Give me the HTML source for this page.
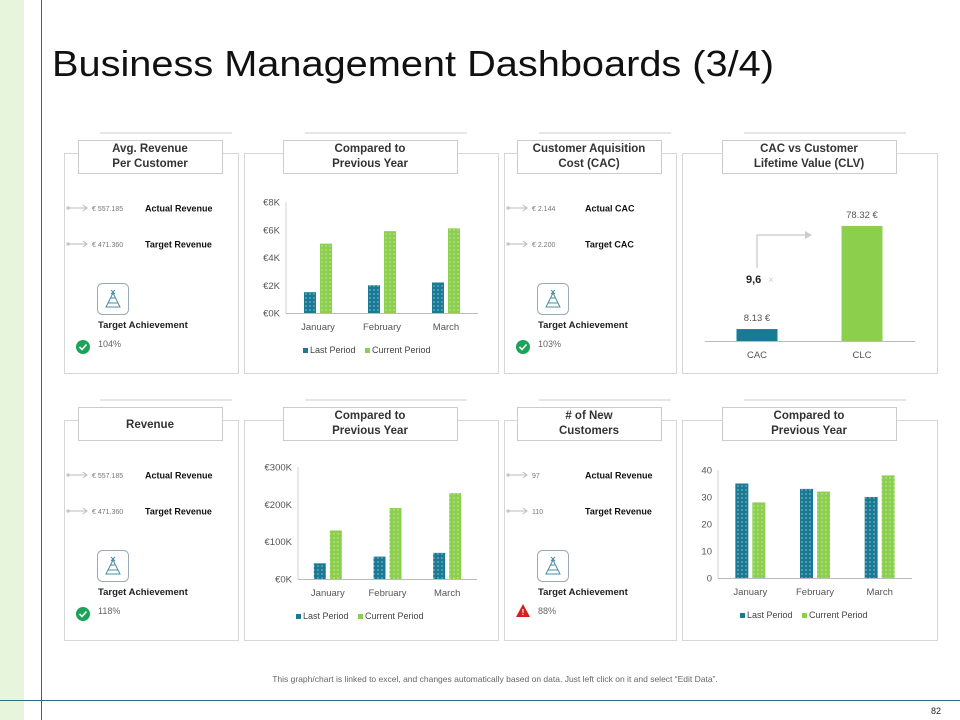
<!DOCTYPE html>
<html><head><meta charset="utf-8"><style>
body{margin:0;width:960px;height:720px;overflow:hidden;background:#fff;font-family:"Liberation Sans",sans-serif}
svg{display:block}
</style></head><body>
<svg id="s" width="960" height="720" xmlns="http://www.w3.org/2000/svg" font-family="Liberation Sans, sans-serif">
<defs>
<pattern id="dt" width="4" height="4" patternUnits="userSpaceOnUse"><rect width="4" height="4" fill="#1a7a94"/><circle cx="2" cy="2" r="0.6" fill="#cfe8ee"/></pattern>
<pattern id="dg" width="4" height="4" patternUnits="userSpaceOnUse"><rect width="4" height="4" fill="#8ccf4d"/><circle cx="2" cy="2" r="0.6" fill="#e4f4d4"/></pattern>
</defs>
<rect x="0" y="0" width="24" height="720" fill="#e6f5dc"/>
<line x1="41.5" y1="0" x2="41.5" y2="720" stroke="#2a6f7f" stroke-width="1"/>
<line x1="0" y1="700.5" x2="960" y2="700.5" stroke="#2a6f7f" stroke-width="1"/>
<text x="52" y="76" font-size="36" fill="#111" textLength="722" lengthAdjust="spacingAndGlyphs">Business Management Dashboards (3/4)</text>
<text x="495" y="682" font-size="8.5" fill="#666" text-anchor="middle">This graph/chart is linked to excel, and changes automatically based on data. Just left click on it and select “Edit Data”.</text>
<text x="941" y="714" font-size="9" fill="#222" text-anchor="end">82</text>
<g id="g"></g>
</svg>
<script>
// ---- data ----
const months = ["January","February","March"];
const avgLast = [1.5, 2.0, 2.2];
const avgCurrent = [5.0, 5.9, 6.1];
const avgTicks = ["€0K","€2K","€4K","€6K","€8K"];
const revLast = [42, 60, 70];
const revCurrent = [130, 190, 230];
const revTicks = ["€0K","€100K","€200K","€300K"];
const custLast = [35, 33, 30];
const custCurrent = [28, 32, 38];
const custTicks = ["0","10","20","30","40"];
const clvCats = ["CAC","CLC"];
const clvValues = [8.13, 78.32];
const clvLabels = ["8.13 €","78.32 €"];

const NS="http://www.w3.org/2000/svg";
const G=document.getElementById('g');
function mk(tag,at,txt,par){const e=document.createElementNS(NS,tag);for(const k in at)e.setAttribute(k,at[k]);if(txt!==undefined)e.textContent=txt;(par||G).appendChild(e);return e;}

// panels
const panels=[
 [64,153,174,220,78,140,144,["Avg. Revenue","Per Customer"]],
 [244,153,254,220,283,140,174,["Compared to","Previous Year"]],
 [504,153,172,220,517,140,144,["Customer Aquisition","Cost (CAC)"]],
 [682,153,255,220,722,140,174,["CAC vs Customer","Lifetime Value (CLV)"]],
 [64,420,174,220,78,407,144,["Revenue"]],
 [244,420,254,220,283,407,174,["Compared to","Previous Year"]],
 [504,420,172,220,517,407,144,["# of New","Customers"]],
 [682,420,255,220,722,407,174,["Compared to","Previous Year"]]];
panels.forEach((p,i)=>{
 let r=mk('rect',{x:p[0]+.5,y:p[1]+.5,width:p[2],height:p[3],fill:'none',stroke:'#d6d6d6'});
 
 
 let dl=mk('line',{x1:p[4]+22,y1:p[5]-7,x2:p[4]+p[6]+10,y2:p[5]-7,stroke:'#ddd','stroke-width':1.5});
 
 
 let b=mk('rect',{x:p[4]+.5,y:p[5]+.5,width:p[6],height:33,fill:'#fff',stroke:'#ccc'});
 
 
 const t=p[7];
 t.forEach((s,j)=>{
  let y=t.length==1?p[5]+21:p[5]+12+j*15;
  let tx=mk('text',{x:p[4]+p[6]/2,y:y,'font-size':11.5,'font-weight':'bold',fill:'#333','text-anchor':'middle'},s);
  
  
 });
});

// KPI panels
const kpis=[[64,153,["€ 557.185","€ 471.360"],["Actual Revenue","Target Revenue"],"104%",true],
 [504,153,["€ 2.144","€ 2.200"],["Actual CAC","Target CAC"],"103%",true],
 [64,420,["€ 557.185","€ 471.360"],["Actual Revenue","Target Revenue"],"118%",true],
 [504,420,["97","110"],["Actual Revenue","Target Revenue"],"88%",false]];
kpis.forEach(k=>{
 const x=k[0],y=k[1];
 [55,91].forEach((dy,j)=>{
  let cy=y+dy;
  let c=mk('circle',{cx:x+4,cy:cy,r:1.8,fill:'#ccc'});
  
  
  let a=mk('path',{d:`M${x+4} ${cy}H${x+22}M${x+19} ${cy-3}L${x+23} ${cy}L${x+19} ${cy+3}`,stroke:'#bbb',fill:'none','stroke-width':1});
  
  
  let v=mk('text',{x:x+28,y:cy+3,'font-size':7,fill:'#777'},k[2][j]);
  
  
  let l=mk('text',{x:x+81,y:cy+3.5,'font-size':9,'font-weight':'bold',fill:'#111'},k[3][j]);
  
  
 });
 let ib=mk('rect',{x:x+33.5,y:y+130.5,width:31,height:31,rx:5,fill:'#fff',stroke:'#9ab'});
 
 
 let ic=mk('path',{d:`M${x+42} ${y+154}L${x+49} ${y+140}L${x+56} ${y+154}ZM${x+44} ${y+150}H${x+54}M${x+46} ${y+145}H${x+52}M${x+47} ${y+137}L${x+51} ${y+141}M${x+51} ${y+137}L${x+47} ${y+141}`,fill:'none',stroke:'#4a8fa3','stroke-width':1});
 
 
 let ta=mk('text',{x:x+34,y:y+175,'font-size':9.5,'font-weight':'bold',fill:'#222'},'Target Achievement');
 
 
 if(k[5]){
  let c=mk('circle',{cx:x+19,cy:y+194,r:7,fill:'#1aa359'});
  
  
  mk('path',{d:`M${x+15.5} ${y+194}L${x+18} ${y+196.5}L${x+22.5} ${y+191.5}`,stroke:'#fff','stroke-width':1.6,fill:'none'});
 } else {
  let w=mk('path',{d:`M${x+19} ${y+184}L${x+26} ${y+197}H${x+12}Z`,fill:'#d81e1e'});
  
  
  mk('text',{x:x+19,y:y+195,'font-size':8,'font-weight':'bold',fill:'#fff','text-anchor':'middle'},'!');
 }
 let pc=mk('text',{x:x+34,y:y+194,'font-size':9,fill:'#666'},k[4]);
 
 
});

// grouped bar charts
function barChart(cfg,last,cur,ticks,maxV){
 const yS=v=>cfg.base-(v/maxV)*(cfg.base-cfg.top);
 let ax=mk('line',{x1:cfg.x0,y1:cfg.top,x2:cfg.x0,y2:cfg.base,stroke:'#d0d0d0'});
 
 
 let bx=mk('line',{x1:cfg.x0,y1:cfg.base+.5,x2:cfg.x1,y2:cfg.base+.5,stroke:'#bbb'});
 
 
 ticks.forEach((t,i)=>{
  let v=maxV*i/(ticks.length-1);
  let e=mk('text',{x:cfg.x0-6,y:yS(v)+3.5,'font-size':9.5,fill:'#555','text-anchor':'end'},t);
  
  
 });
 const gw=(cfg.x1-cfg.x0)/months.length;
 months.forEach((m,i)=>{
  const cx=cfg.x0+gw*(i+.5);
  let b1=mk('rect',{x:cx-cfg.bw-2,y:yS(last[i]),width:cfg.bw,height:cfg.base-yS(last[i]),fill:'url(#dt)'});
  
  
  let b2=mk('rect',{x:cx+2,y:yS(cur[i]),width:cfg.bw,height:cfg.base-yS(cur[i]),fill:'url(#dg)'});
  
  
  let l=mk('text',{x:cx,y:cfg.base+17,'font-size':9.5,fill:'#555','text-anchor':'middle'},m);
  
  
 });
 const ly=cfg.base+40,lx=cfg.lx;
 let s1=mk('rect',{x:lx,y:ly-5,width:5,height:5,fill:'#1a7a94'});
 
 
 let t1=mk('text',{x:lx+7,y:ly,'font-size':9,fill:'#444'},'Last Period');
 
 
 let s2=mk('rect',{x:lx+62,y:ly-5,width:5,height:5,fill:'#8ccf4d'});
 
 
 let t2=mk('text',{x:lx+69,y:ly,'font-size':9,fill:'#444'},'Current Period');
 
 
}
barChart({x0:286,x1:478,top:202,base:313,bw:12,lx:303},avgLast,avgCurrent,avgTicks,8);
barChart({x0:298,x1:477,top:467,base:579,bw:12,lx:296},revLast,revCurrent,revTicks,300);
barChart({x0:718,x1:912,top:470,base:578,bw:13,lx:740},custLast,custCurrent,custTicks,40);

// CAC vs CLV
(function(){
 const base=341,maxV=78.32,h=115,xs=[757,862];
 const yS=v=>base-v/maxV*h;
 let ax=mk('line',{x1:705,y1:base+.5,x2:915,y2:base+.5,stroke:'#bbb'});
 
 
 clvCats.forEach((c,i)=>{
  let b=mk('rect',{x:xs[i]-20.5,y:yS(clvValues[i]),width:41,height:base-yS(clvValues[i]),fill:i?'#8ccf4d':'#1a7a94'});
  
  
  let l=mk('text',{x:xs[i],y:yS(clvValues[i])-8,'font-size':9.5,fill:'#555','text-anchor':'middle'},clvLabels[i]);
  
  
  let t=mk('text',{x:xs[i],y:base+17,'font-size':9.5,fill:'#555','text-anchor':'middle'},c);
  
  
 });
 let ar=mk('path',{d:'M757 268V235H806',stroke:'#bbb',fill:'none'});
 
 
 let ah=mk('path',{d:'M805 231L812 235L805 239Z',fill:'#ccc'});
 
 
 let r=mk('text',{x:746,y:283,'font-size':11,'font-weight':'bold',fill:'#222'},'9,6');
 
 
 mk('text',{x:768,y:283,'font-size':10,fill:'#ccc'},'×');
})();
</script>
</body></html>
